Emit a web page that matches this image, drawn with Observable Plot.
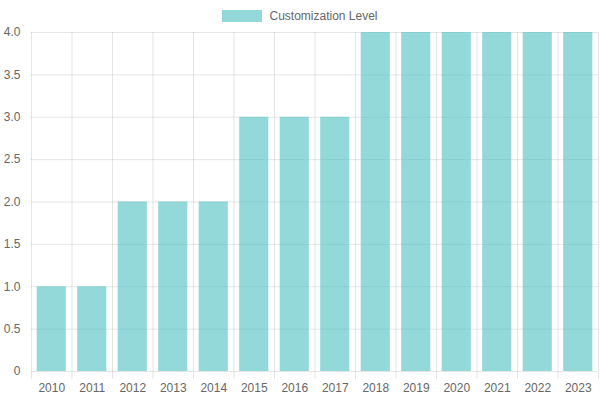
<!DOCTYPE html>
<html>
<head>
<meta charset="utf-8">
<script src="https://cdn.jsdelivr.net/npm/d3@7"></script>
<script src="https://cdn.jsdelivr.net/npm/@observablehq/plot@0.6"></script>
<style>
  body { margin: 0; background: #fff; font-family: "Liberation Sans", Arial, sans-serif; }
  #wrap { position: relative; width: 600px; height: 400px; }
  #legend { position: absolute; top: 9px; left: 0; width: 600px; display: flex; justify-content: center; align-items: center; font-size: 12px; color: #666; }
  #legend .box { width: 40px; height: 12px; background: rgba(75,192,192,0.6); margin-right: 7px; }
</style>
</head>
<body>
<div id="wrap">
  <div id="legend"><span class="box"></span><span>Customization Level</span></div>
</div>
<script>
const years = ["2010","2011","2012","2013","2014","2015","2016","2017","2018","2019","2020","2021","2022","2023"];
const levels = [1, 1, 2, 2, 2, 3, 3, 3, 4, 4, 4, 4, 4, 4];
const seriesName = "Customization Level";
const yTicks = [0, 0.5, 1, 1.5, 2, 2.5, 3, 3.5, 4];

const data = years.map((y, i) => ({year: y, value: levels[i]}));

const W = 600, H = 400, mL = 31, mR = 2, mT = 32, mB = 29;
const step = (W - mL - mR) / years.length;
const grid = "rgba(0,0,0,0.1)";

const chart = Plot.plot({
  width: W,
  height: H,
  marginLeft: mL,
  marginRight: mR,
  marginTop: mT,
  marginBottom: mB,
  style: {fontFamily: "Liberation Sans, Arial, sans-serif", fontSize: "12px", color: "#666", background: "transparent"},
  x: {type: "band", domain: years, paddingInner: 0.28, paddingOuter: 0.14, round: false, label: null},
  y: {domain: [0, 4], label: null},
  marks: [
    Plot.ruleY(yTicks, {stroke: grid, strokeWidth: 1}),
    Plot.ruleX(years, {x: d => d, dx: -step / 2, stroke: grid, insetBottom: -8}),
    Plot.ruleX(years.slice(-1), {x: d => d, dx: step / 2, stroke: grid, insetBottom: -8}),
    Plot.barY(data, {x: "year", y: "value", fill: "rgba(75,192,192,0.6)", title: d => `${seriesName}: ${d.value}`}),
    Plot.axisY({ticks: yTicks, tickSize: 0, tickPadding: 11, tickFormat: d => d === 0 ? "0" : d.toFixed(1), fill: "#666", label: null}),
    Plot.axisX({tickSize: 0, tickPadding: 12, fill: "#666", label: null})
  ]
});
document.getElementById("wrap").prepend(chart);
chart.style.position = "absolute";
chart.style.top = "0";
chart.style.left = "0";
</script>
</body>
</html>
